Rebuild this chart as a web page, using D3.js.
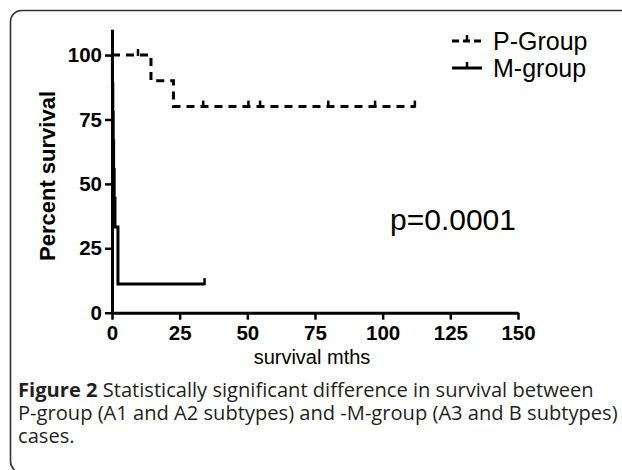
<!DOCTYPE html>
<html>
<head>
<meta charset="utf-8">
<script src="https://cdn.jsdelivr.net/npm/d3@7"></script>
<style>
  html, body { margin: 0; padding: 0; background: #fff; }
  svg { display: block; }
</style>
</head>
<body>
<script>
// ---- data ----
const xTicks = [0, 25, 50, 75, 100, 125, 150];
const yTicks = [0, 25, 50, 75, 100];
const seriesNames = ["P-Group", "M-group"];
// P-group: step times (months) and survival (%)
const pTimes = [0, 14.4, 22.7];
const pSurv = [100, 90, 80];
const pEnd = 111.9;
const pCensor = [9.6, 33.7, 50.4, 54.7, 79.9, 97.2, 111.9];
// M-group
const mTimes = [0, 0.15, 0.3, 0.45, 0.6, 0.8, 1.1, 2.2];
const mSurv = [100, 88.9, 77.8, 66.7, 55.6, 44.4, 33.3, 11.1];
const mEnd = 34.2;
const mCensor = [34.2];
const pValueText = "p=0.0001";
const xTitle = "survival mths";
const yTitle = "Percent survival";
const captionBold = "Figure 2";
const captionLines = [
  " Statistically significant difference in survival between",
  "P-group (A1 and A2 subtypes) and -M-group (A3 and B subtypes)",
  "cases."
];

const W = 622, H = 470;
const svg = d3.select("body").append("svg").attr("width", W).attr("height", H);

// frame
svg.append("rect").attr("x", 10.5).attr("y", 10.5).attr("width", 640).attr("height", 462)
  .attr("rx", 11).attr("fill", "none").attr("stroke", "#333").attr("stroke-width", 1.6);

const x = d3.scaleLinear().domain([0, 150]).range([112, 518]);
const y = d3.scaleLinear().domain([0, 110]).range([312.7, 29.3]);

const tickFont = "'Liberation Sans', Arial, sans-serif";

// y axis
const gy = svg.append("g").attr("transform", `translate(${x(0)},0)`)
  .call(d3.axisLeft(y).tickValues(yTicks).tickSize(7).tickSizeOuter(0).tickPadding(3));
gy.select(".domain").attr("stroke", "#000").attr("stroke-width", 3);
gy.selectAll(".tick line").attr("stroke", "#000").attr("stroke-width", 2.5);
gy.selectAll(".tick text").attr("font-family", tickFont).attr("font-weight", "bold")
  .attr("font-size", 20.5).attr("fill", "#000");

// x axis
const gx = svg.append("g").attr("transform", `translate(0,${y(0)})`)
  .call(d3.axisBottom(x).tickValues(xTicks).tickSize(7).tickSizeOuter(0).tickPadding(6));
gx.select(".domain").attr("stroke", "#000").attr("stroke-width", 3);
gx.selectAll(".tick line").attr("stroke", "#000").attr("stroke-width", 2.5);
gx.selectAll(".tick text").attr("font-family", tickFont).attr("font-weight", "bold")
  .attr("font-size", 20.5).attr("fill", "#000");

// axis titles
svg.append("text").attr("transform", `translate(55,176) rotate(-90)`)
  .attr("text-anchor", "middle").attr("font-family", tickFont).attr("font-weight", "bold")
  .attr("font-size", 22).attr("fill", "#000").text(yTitle);
svg.append("text").attr("x", 312).attr("y", 364).attr("text-anchor", "middle")
  .attr("font-family", tickFont).attr("font-size", 20).attr("fill", "#000").text(xTitle);

// curves
function stepPoints(times, surv, end) {
  const pts = times.map((t, i) => [t, surv[i]]);
  pts.push([end, surv[surv.length - 1]]);
  return pts;
}
function survAt(times, surv, t) {
  let s = surv[0];
  times.forEach((tt, i) => { if (tt <= t) s = surv[i]; });
  return s;
}
const line = d3.line().x(d => x(d[0])).y(d => y(d[1])).curve(d3.curveStepAfter);

svg.append("path").datum(stepPoints(pTimes, pSurv, pEnd)).attr("d", line)
  .attr("fill", "none").attr("stroke", "#000").attr("stroke-width", 3)
  .attr("stroke-dasharray", "8,6");
svg.append("path").datum(stepPoints(mTimes, mSurv, mEnd)).attr("d", line)
  .attr("fill", "none").attr("stroke", "#000").attr("stroke-width", 3);

function censorTicks(times, surv, cens) {
  svg.append("g").selectAll("line").data(cens).join("line")
    .attr("x1", d => x(d)).attr("x2", d => x(d))
    .attr("y1", d => y(survAt(times, surv, d)) + 1)
    .attr("y2", d => y(survAt(times, surv, d)) - 6)
    .attr("stroke", "#000").attr("stroke-width", 2.5);
}
censorTicks(pTimes, pSurv, pCensor);
censorTicks(mTimes, mSurv, mCensor);

// legend
const leg = svg.append("g");
const legY = [41, 68];
leg.append("line").attr("x1", 452).attr("x2", 482).attr("y1", legY[0]).attr("y2", legY[0])
  .attr("stroke", "#000").attr("stroke-width", 3).attr("stroke-dasharray", "7,4");
leg.append("line").attr("x1", 467).attr("x2", 467).attr("y1", legY[0]).attr("y2", legY[0] - 6)
  .attr("stroke", "#000").attr("stroke-width", 2.5);
leg.append("line").attr("x1", 452).attr("x2", 482).attr("y1", legY[1]).attr("y2", legY[1])
  .attr("stroke", "#000").attr("stroke-width", 3);
leg.append("line").attr("x1", 467).attr("x2", 467).attr("y1", legY[1]).attr("y2", legY[1] - 6)
  .attr("stroke", "#000").attr("stroke-width", 2.5);
leg.selectAll("text").data(seriesNames).join("text")
  .attr("x", 493).attr("y", (d, i) => legY[i]).attr("dy", "0.35em")
  .attr("font-family", tickFont).attr("font-size", 25).attr("fill", "#000").text(d => d);

// p-value
svg.append("text").attr("x", 390).attr("y", 230).attr("font-family", tickFont)
  .attr("font-size", 30).attr("fill", "#000").text(pValueText);

// caption (font size fitted so the widest line ends near the right edge)
const capFont = "'Open Sans', 'Noto Sans', sans-serif";
const cap = svg.append("g").attr("font-family", capFont).attr("font-size", 20).attr("fill", "#231f20");
const l1 = cap.append("text").attr("x", 18).attr("y", 397);
l1.append("tspan").attr("font-weight", "bold").text(captionBold);
l1.append("tspan").text(captionLines[0]);
const l2 = cap.append("text").attr("x", 18).attr("y", 420).text(captionLines[1]);
cap.append("text").attr("x", 18).attr("y", 443).text(captionLines[2]);
const maxW = Math.max(l1.node().getComputedTextLength(), l2.node().getComputedTextLength());
const fitSize = Math.min(20.5, 20 * 600 / maxW);
cap.attr("font-size", fitSize);
</script>
</body>
</html>
